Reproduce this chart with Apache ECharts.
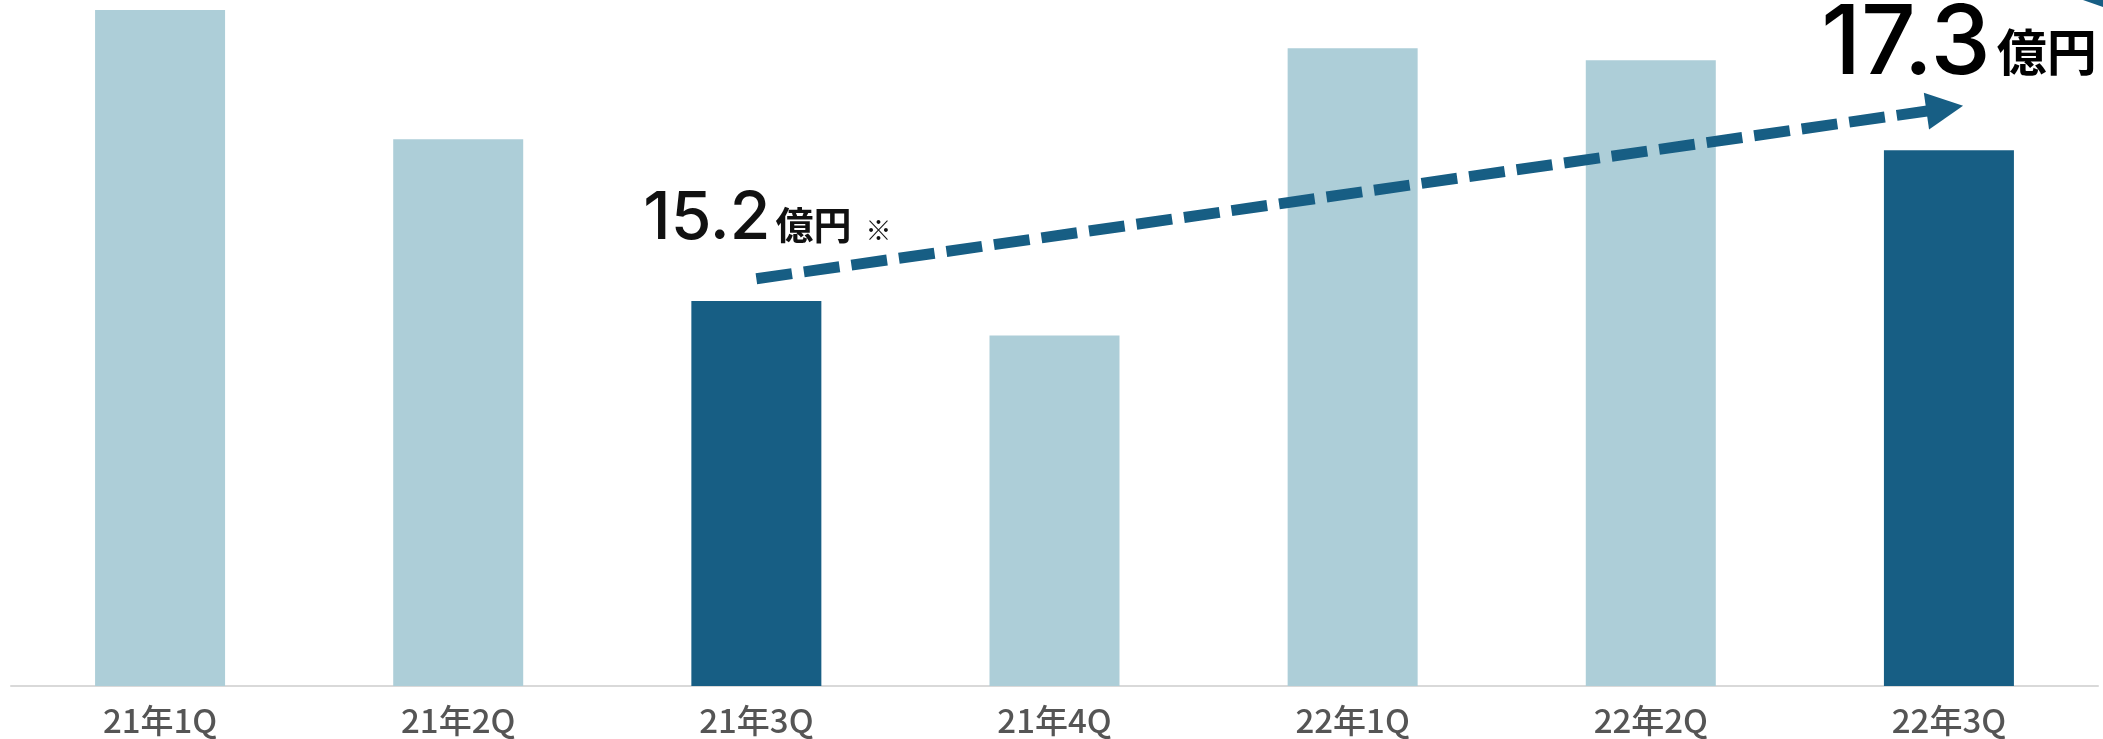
<!DOCTYPE html>
<html>
<head>
<meta charset="utf-8">
<script src="https://cdn.jsdelivr.net/npm/echarts@6/dist/echarts.min.js"></script>
<style>
  html, body { margin: 0; padding: 0; background: #ffffff; }
  #chart { width: 2103px; height: 739px; }
</style>
</head>
<body>
<div id="chart"></div>
<script>
// Quarterly figures (億円)
const categories = ['21年1Q', '21年2Q', '21年3Q', '21年4Q', '22年1Q', '22年2Q', '22年3Q'];
const sales = [19.25, 17.45, 15.2, 14.72, 18.72, 18.55, 17.3];
const highlighted = [false, false, true, false, false, false, true];
// Trend arrow from 21年3Q to 22年3Q: [category position, value]
const trendFrom = [2.5, 15.51];
const trendTo = [6.486, 17.88];
const unitText = '億円';
const noteText = '※';

const LIGHT = '#ADCED8';
const DARK = '#175E84';
const NUM_FONT = 'Inter';
const CJK_FONT = '"Noto Sans CJK JP"';

function labelFor(i) {
  if (i === 2) {
    return {
      show: true,
      position: 'top',
      distance: 49,
      offset: [11, 0],
      formatter: p => '{num|' + p.value.toFixed(1) + '}{unit|' + unitText + '}{note|' + noteText + '}',
      rich: {
        num: { fontFamily: NUM_FONT, fontSize: 66, fontWeight: 500, color: '#111111', lineHeight: 66, verticalAlign: 'bottom' },
        unit: { fontFamily: CJK_FONT, fontSize: 38, fontWeight: 'bold', color: '#111111', lineHeight: 47, verticalAlign: 'bottom', padding: [0, 0, 8, 5] },
        note: { fontFamily: CJK_FONT, fontSize: 26, color: '#111111', lineHeight: 40, verticalAlign: 'bottom', padding: [0, 0, 9, 14] }
      }
    };
  }
  if (i === 6) {
    return {
      show: true,
      position: 'top',
      distance: 57,
      offset: [10, 0],
      formatter: p => '{big|' + p.value.toFixed(1) + '}{bigUnit|' + unitText + '}',
      rich: {
        big: { fontFamily: NUM_FONT, fontSize: 96, fontWeight: 500, color: '#000000', lineHeight: 96, verticalAlign: 'bottom' },
        bigUnit: { fontFamily: CJK_FONT, fontSize: 50, fontWeight: 'bold', color: '#000000', lineHeight: 62, verticalAlign: 'bottom', padding: [0, 0, 16, 6] }
      }
    };
  }
  return { show: false };
}

const barData = sales.map((v, i) => ({
  value: v,
  itemStyle: { color: highlighted[i] ? DARK : LIGHT },
  label: labelFor(i)
}));

const chart = echarts.init(document.getElementById('chart'), null, { renderer: 'canvas' });
chart.setOption({
  animation: false,
  backgroundColor: '#ffffff',
  grid: { left: 11, right: 5, top: 0, bottom: 53, containLabel: false },
  xAxis: [
    {
      type: 'category',
      data: categories,
      boundaryGap: true,
      axisLine: { show: true, lineStyle: { color: '#D9D9D9', width: 2 } },
      axisTick: { show: false },
      axisLabel: { color: '#555555', fontFamily: CJK_FONT, fontSize: 33, fontWeight: 500, margin: 18 }
    },
    { type: 'value', gridIndex: 0, min: 0, max: 7, show: false }
  ],
  yAxis: {
    type: 'value',
    min: 9.84,
    max: 19.39,
    show: false,
    splitLine: { show: false }
  },
  series: [
    {
      type: 'bar',
      xAxisIndex: 0,
      yAxisIndex: 0,
      barWidth: 130,
      data: barData,
      z: 2
    },
    {
      type: 'lines',
      coordinateSystem: 'cartesian2d',
      xAxisIndex: 1,
      yAxisIndex: 0,
      silent: true,
      symbol: ['none', 'triangle'],
      symbolSize: [34, 37],
      lineStyle: { color: DARK, width: 11, type: [36, 12], opacity: 1, curveness: 0, cap: 'butt' },
      data: [{ coords: [trendFrom, trendTo] }],
      z: 5
    }
  ],
  graphic: [
    {
      type: 'polygon',
      shape: { points: [[2083, 0], [2103, 0], [2103, 7]] },
      style: { fill: DARK },
      silent: true
    }
  ]
});
</script>
</body>
</html>
